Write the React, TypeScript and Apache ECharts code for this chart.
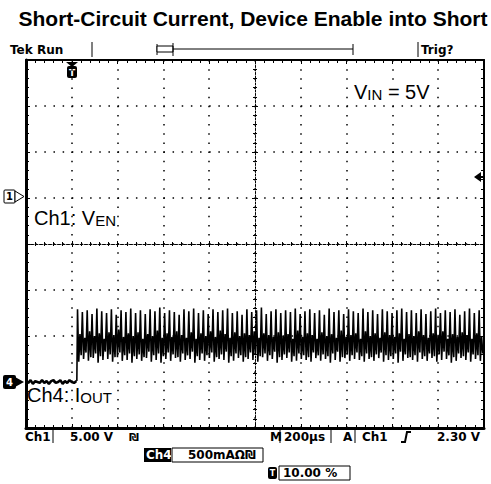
import React, { useEffect, useRef } from 'react';
import * as echarts from 'echarts';

// ---- Axis (oscilloscope graticule) ----
const TIME_MIN = -200; // µs (trigger at 0, 200 µs/div)
const TIME_MAX = 1800;
const TIME_STEP = 200;
const AMP_MIN = -0.5; // A (Ch4, 500 mA/div, ground one div above bottom)
const AMP_MAX = 3.5;
const AMP_STEP = 0.5;

// ---- Ch4 current before the step (sampled every 10 µs from -200 µs) ----
const baselineStart = -200;
const baselineSample = 10;
const baselineAmps = [0.01, -0.01, 0.02, -0.02, 0.01, 0.0, -0.01, 0.02, -0.01, 0.01, -0.02, 0.01, 0.02, -0.01, 0.0, 0.02, -0.02, 0.01, -0.01, 0.02, 0.0, -0.01, 0.01];
const stepTime = 22;

// ---- Ch4 current after the short: oscillating band, peak / trough / rebound / dip per cycle ----
const bandStart = 25;
const bandEnd = 1800;
const peaks = [
  0.79, 0.76, 0.78, 0.74, 0.80, 0.77, 0.75, 0.79, 0.73, 0.78, 0.76, 0.80,
  0.75, 0.78, 0.74, 0.79, 0.77, 0.81, 0.75, 0.78, 0.76, 0.73, 0.79, 0.77,
  0.80, 0.75, 0.78, 0.74, 0.79, 0.76, 0.78, 0.80, 0.75, 0.77, 0.73, 0.79,
  0.76, 0.78, 0.81, 0.74, 0.77, 0.79, 0.75, 0.78, 0.76, 0.80, 0.74, 0.77,
  0.79, 0.75, 0.78, 0.73, 0.80, 0.76, 0.78, 0.74, 0.79, 0.77, 0.75, 0.80,
  0.76, 0.78, 0.74, 0.79, 0.77, 0.75, 0.78, 0.80, 0.76, 0.78, 0.75, 0.79,
  0.74, 0.77, 0.80, 0.75, 0.78, 0.76, 0.79, 0.73, 0.77, 0.80, 0.75, 0.78,
];
const troughs = [
  0.22, 0.25, 0.23, 0.26, 0.21, 0.24, 0.25, 0.22, 0.27, 0.23, 0.24, 0.21,
  0.25, 0.23, 0.26, 0.22, 0.24, 0.21, 0.25, 0.23, 0.26, 0.22, 0.24, 0.25,
  0.21, 0.24, 0.23, 0.26, 0.22, 0.25, 0.24, 0.21, 0.23, 0.26, 0.22, 0.25,
  0.24, 0.22, 0.27, 0.23, 0.25, 0.21, 0.24, 0.26, 0.22, 0.23, 0.25, 0.24,
  0.22, 0.26, 0.23, 0.25, 0.21, 0.24, 0.22, 0.26, 0.23, 0.25, 0.24, 0.22,
  0.25, 0.23, 0.26, 0.22, 0.24, 0.25, 0.21, 0.23, 0.26, 0.24, 0.22, 0.25,
  0.23, 0.26, 0.22, 0.24, 0.25, 0.21, 0.23, 0.26, 0.24, 0.22, 0.25, 0.23,
];
const rebounds = [
  0.52, 0.48, 0.55, 0.50, 0.53, 0.47, 0.54, 0.51, 0.57, 0.49, 0.53, 0.50,
  0.54, 0.47, 0.52, 0.50, 0.56, 0.48, 0.53, 0.49, 0.55, 0.51, 0.48, 0.54,
  0.47, 0.53, 0.50, 0.55, 0.49, 0.56, 0.52, 0.48, 0.54, 0.50, 0.53, 0.51,
  0.55, 0.48, 0.53, 0.51, 0.49, 0.54, 0.50, 0.52, 0.47, 0.56, 0.49, 0.53,
  0.51, 0.47, 0.54, 0.50, 0.52, 0.48, 0.56, 0.49, 0.51, 0.53, 0.47, 0.55,
  0.50, 0.53, 0.48, 0.54, 0.51, 0.49, 0.53, 0.47, 0.52, 0.50, 0.55, 0.51,
  0.48, 0.53, 0.50, 0.55, 0.47, 0.52, 0.49, 0.54, 0.51, 0.47, 0.53, 0.50,
];
const dips = [
  0.29, 0.32, 0.27, 0.31, 0.28, 0.33, 0.30, 0.27, 0.32, 0.29, 0.31, 0.28,
  0.30, 0.27, 0.33, 0.29, 0.31, 0.28, 0.32, 0.30, 0.27, 0.31, 0.29, 0.33,
  0.28, 0.31, 0.29, 0.32, 0.27, 0.30, 0.33, 0.28, 0.31, 0.29, 0.27, 0.32,
  0.30, 0.28, 0.31, 0.29, 0.33, 0.27, 0.30, 0.32, 0.28, 0.31, 0.29, 0.27,
  0.32, 0.29, 0.30, 0.28, 0.31, 0.33, 0.27, 0.30, 0.29, 0.32, 0.28, 0.31,
  0.27, 0.30, 0.32, 0.29, 0.28, 0.31, 0.33, 0.30, 0.27, 0.29, 0.32, 0.28,
  0.31, 0.28, 0.30, 0.33, 0.29, 0.27, 0.31, 0.28, 0.32, 0.30, 0.29, 0.31,
];

// ---- Texts ----
const TITLE = 'Short-Circuit Current, Device Enable into Short';
const STATUS_LEFT = 'Tek Run';
const STATUS_RIGHT = 'Trig?';
const CH1_SCALE = '5.00 V';
const TIMEBASE = '200µs';
const TRIG_SRC = 'Ch1';
const TRIG_LEVEL = '2.30 V';
const CH4_SCALE = '500mAΩ₪';
const TRIG_POS = '10.00 %';

const GRID = { left: 26, top: 60, width: 458, height: 368 };
const BLACK = '#000';
const SANS = '"Liberation Sans", Arial, sans-serif';
const SCOPE = '"DejaVu Sans", sans-serif';

function frameAxis(position: string, lineWidth: number, offset = 0, opts: any = {}) {
  return {
    type: 'value',
    position,
    offset,
    axisLine: { show: lineWidth > 0, onZero: false, lineStyle: { color: BLACK, width: lineWidth, ...(opts.lineType ? { type: opts.lineType } : {}) } },
    axisTick: { show: true, inside: opts.outside ? false : true, length: opts.tickLen ?? 4, lineStyle: { color: BLACK, width: 1 } },
    minorTick: { show: true, splitNumber: 5, length: opts.minorLen ?? 3, lineStyle: { color: BLACK, width: 1 } },
    axisLabel: { show: false },
    splitLine: opts.split
      ? { show: true, lineStyle: { color: BLACK, width: 1.5, type: [1.5, 7.66] } }
      : { show: false },
  };
}

export default function App() {
  const ref = useRef<HTMLDivElement>(null);
  useEffect(() => {
    if (!ref.current) return;
    const chart = echarts.init(ref.current, undefined, { renderer: 'svg' });

    const baselineData = baselineAmps.map((v, i) => [baselineStart + i * baselineSample, v]);
    const cycle = (bandEnd - bandStart) / peaks.length;
    const bandData: number[][] = [[stepTime, baselineAmps[baselineAmps.length - 1]]];
    peaks.forEach((p, i) => {
      const t0 = bandStart + i * cycle;
      bandData.push([t0, p]);
      bandData.push([t0 + cycle / 4, troughs[i]]);
      bandData.push([t0 + cycle / 2, rebounds[i]]);
      bandData.push([t0 + (3 * cycle) / 4, dips[i]]);
    });

    const xCommon = { min: TIME_MIN, max: TIME_MAX, interval: TIME_STEP };
    const yCommon = { min: AMP_MIN, max: AMP_MAX, interval: AMP_STEP };

    const txt = (x: number, y: number, text: string, font: string, extra: any = {}) => ({
      type: 'text', x, y, silent: true,
      style: { text, font, fill: BLACK, textVerticalAlign: 'middle', ...extra },
    });
    const ln = (x1: number, y1: number, x2: number, y2: number, w = 1) => ({
      type: 'line', silent: true, shape: { x1, y1, x2, y2 }, style: { stroke: BLACK, lineWidth: w },
    });
    const box = (x: number, y: number, w: number, h: number, fill = '#fff') => ({
      type: 'rect', silent: true, shape: { x, y, width: w, height: h }, style: { stroke: BLACK, fill, lineWidth: 1 },
    });
    const label = (x: number, y: number, big: string, small: string, rest = '', bg = false) => ({
      type: 'text', x, y, silent: true, z: 100,
      style: {
        text: `{a|${big}}{b|${small}}` + (rest ? `{a|${rest}}` : ''), textVerticalAlign: 'middle',
        ...(bg ? { backgroundColor: '#fff' } : {}),
        rich: { a: { font: `20px ${SANS}`, fill: BLACK }, b: { font: `15px ${SANS}`, fill: BLACK, verticalAlign: 'bottom' } },
      },
    });

    chart.setOption({
      animation: false,
      backgroundColor: '#fff',
      grid: { ...GRID, show: false },
      xAxis: [
        { ...frameAxis('bottom', 3, 0, { split: true }), ...xCommon },
        { ...frameAxis('top', 2), ...xCommon },
        { ...frameAxis('bottom', 1, -GRID.height / 2, { lineType: [3, 1.5], tickLen: 3, minorLen: 2 }), ...xCommon },
        { ...frameAxis('bottom', 0, -GRID.height / 2, { outside: true, tickLen: 3, minorLen: 2 }), ...xCommon },
      ],
      yAxis: [
        { ...frameAxis('left', 3, 0, { split: true }), ...yCommon },
        { ...frameAxis('right', 2), ...yCommon },
        { ...frameAxis('left', 1, -GRID.width / 2, { lineType: [2, 1.5], tickLen: 3, minorLen: 2 }), ...yCommon },
        { ...frameAxis('left', 0, -GRID.width / 2, { outside: true, tickLen: 3, minorLen: 2 }), ...yCommon },
      ],
      series: [
        {
          type: 'line', xAxisIndex: 0, yAxisIndex: 0, data: baselineData, symbol: 'none',
          lineStyle: { color: BLACK, width: 2.5 }, silent: true,
        },
        {
          type: 'line', xAxisIndex: 0, yAxisIndex: 0, data: bandData, symbol: 'none',
          lineStyle: { color: BLACK, width: 1.6 }, silent: true,
        },
      ],
      graphic: [
        txt(253, 18, TITLE, `bold 21px ${SANS}`, { textAlign: 'center' }),
        // status bar
        txt(10, 50, STATUS_LEFT, `bold 12px ${SCOPE}`),
        ln(92, 42, 92, 57),
        ln(157, 49, 353, 49),
        ln(157, 44, 157, 55),
        ln(353, 44, 353, 55),
        box(157, 46, 16, 6),
        ln(173, 43, 173, 56),
        ln(418, 42, 418, 57),
        txt(421, 50, STATUS_RIGHT, `bold 12px ${SCOPE}`),
        // trigger position marker
        { type: 'polygon', silent: true, shape: { points: [[66, 62], [78, 62], [72, 67]] }, style: { fill: BLACK } },
        { type: 'rect', silent: true, shape: { x: 67, y: 66, width: 10, height: 12, r: 2 }, style: { fill: BLACK } },
        txt(72, 72.5, 'T', `bold 9px ${SCOPE}`, { fill: '#fff', textAlign: 'center' }),
        // Ch1 ground marker
        { type: 'rect', silent: true, shape: { x: 4, y: 190, width: 11, height: 13, r: 1 }, style: { fill: '#fff', stroke: BLACK, lineWidth: 1 } },
        txt(9.5, 196.5, '1', `bold 10px ${SCOPE}`, { textAlign: 'center' }),
        { type: 'polygon', silent: true, shape: { points: [[15, 191], [15, 202], [24, 196.5]] }, style: { fill: '#fff', stroke: BLACK, lineWidth: 1 } },
        // Ch4 ground marker
        { type: 'rect', silent: true, shape: { x: 3, y: 375, width: 13, height: 14, r: 2 }, style: { fill: BLACK } },
        txt(9.5, 382, '4', `bold 10px ${SCOPE}`, { fill: '#fff', textAlign: 'center' }),
        { type: 'polygon', silent: true, shape: { points: [[15, 377], [15, 387], [24, 382]] }, style: { fill: BLACK } },
        // trigger level arrow
        { type: 'polygon', silent: true, shape: { points: [[474, 177], [481, 172], [481, 182]] }, style: { fill: BLACK } },
        ln(480, 177, 484, 177, 2),
        // annotations
        label(354, 92, 'V', 'IN', ' = 5V', true),
        label(34, 218, 'Ch1: V', 'EN'),
        label(27, 395, 'Ch4: I', 'OUT'),
        // bottom readout row 1
        txt(25, 437, 'Ch1', `bold 12px ${SCOPE}`),
        ln(53, 429, 53, 443),
        txt(70, 437, CH1_SCALE, `bold 12px ${SCOPE}`),
        txt(129, 437, '₪', `bold 11px ${SCOPE}`),
        txt(270, 437, 'M', `bold 12px ${SCOPE}`),
        ln(280, 429, 280, 443),
        ln(331, 429, 331, 443),
        txt(284, 437, TIMEBASE, `bold 12px ${SCOPE}`),
        txt(343, 437, 'A', `bold 12px ${SCOPE}`),
        ln(355, 429, 355, 443),
        txt(362, 437, TRIG_SRC, `bold 12px ${SCOPE}`),
        { type: 'polyline', silent: true, shape: { points: [[401, 442], [405, 442], [407, 432], [411, 432]] }, style: { stroke: BLACK, lineWidth: 2, fill: 'none' } },
        txt(437, 437, TRIG_LEVEL, `bold 12px ${SCOPE}`),
        // row 2
        { type: 'rect', silent: true, shape: { x: 144, y: 448, width: 27, height: 14 }, style: { fill: BLACK } },
        txt(146, 455, 'Ch4', `bold 12px ${SCOPE}`, { fill: '#fff' }),
        box(172, 448, 91, 14),
        txt(188, 455, CH4_SCALE, `bold 12px ${SCOPE}`),
        // row 3
        { type: 'rect', silent: true, shape: { x: 268, y: 467, width: 9, height: 12, r: 2 }, style: { fill: BLACK } },
        txt(272.5, 473, 'T', `bold 8px ${SCOPE}`, { fill: '#fff', textAlign: 'center' }),
        box(279, 466, 71, 14),
        txt(283, 473, TRIG_POS, `bold 12px ${SCOPE}`),
      ],
    });
    return () => chart.dispose();
  }, []);
  return <div ref={ref} style={{ position: 'absolute', left: 0, top: 0, width: 491, height: 484 }} />;
}
